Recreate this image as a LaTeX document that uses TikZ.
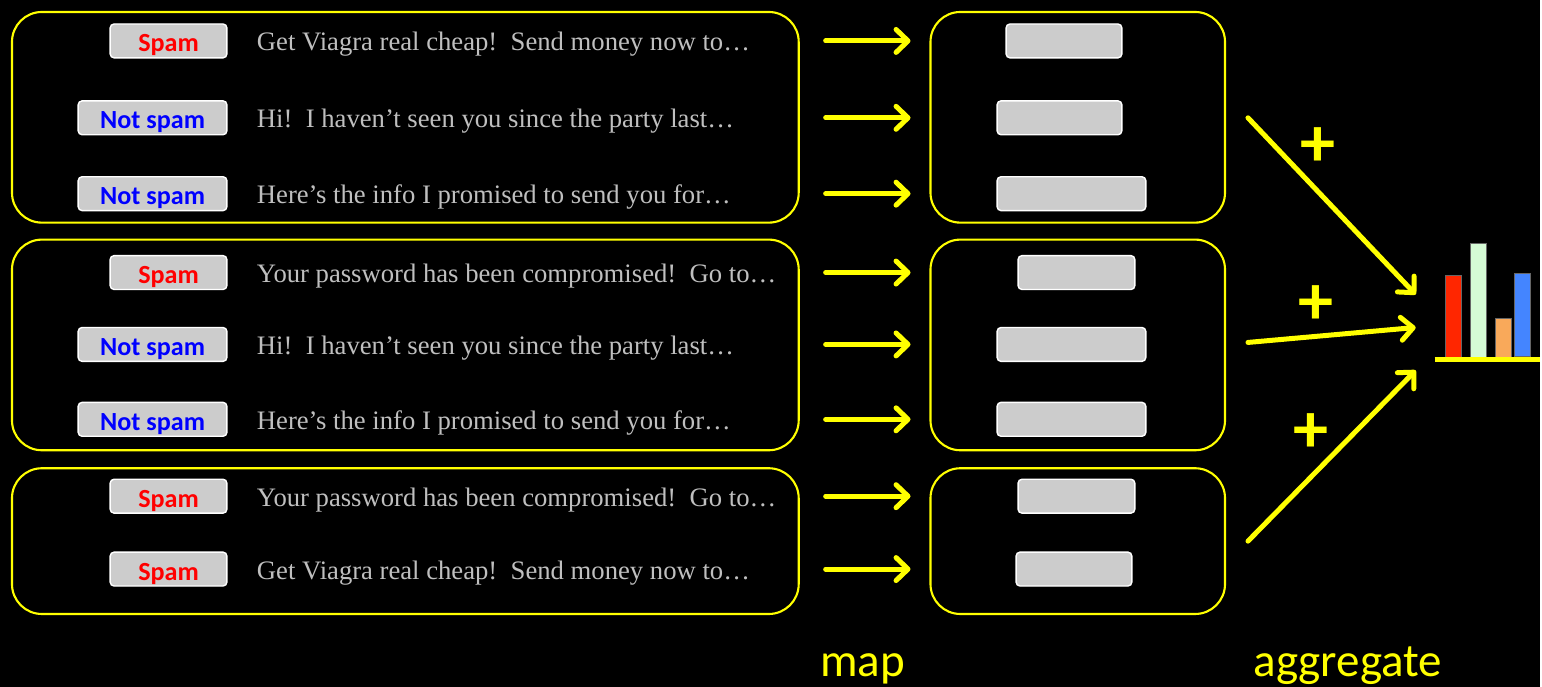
\documentclass[tikz,border=0pt]{standalone}
\usepackage{fontspec}
\setmainfont{Liberation Serif}
\newfontfamily\calfont{Carlito}
\usepackage{xcolor}
\usetikzlibrary{arrows.meta}

\definecolor{hiyellow}{HTML}{FFFF00}
\definecolor{tagfill}{HTML}{CCCCCC}
\definecolor{msggray}{HTML}{BFBFBF}
\definecolor{spamred}{HTML}{FF0000}
\definecolor{hamblue}{HTML}{0000FF}
\definecolor{barred}{HTML}{FF2600}
\definecolor{barmint}{HTML}{D5FBD5}
\definecolor{barorange}{HTML}{F9A95A}
\definecolor{barblue}{HTML}{4485FF}

\begin{document}
\begin{tikzpicture}[
  x=0.02cm,y=-0.02cm,
  grp/.style={draw=hiyellow,line width=1.2pt,rounded corners=0.6cm},
  tag/.style={draw=white,fill=tagfill,line width=0.8pt,rounded corners=0.08cm,
    minimum height=0.68cm,minimum width=2.34cm,inner xsep=0.44cm,inner ysep=0pt,
    text height=0.44cm,text depth=0cm,
    font=\calfont\bfseries\fontsize{14.9}{16}\selectfont,anchor=east},
  msg/.style={text=msggray,anchor=base west,inner sep=0pt,font=\fontsize{15.2}{18}\selectfont},
  res/.style={draw=white,fill=tagfill,line width=0.8pt,rounded corners=0.08cm,
    minimum height=0.68cm,inner sep=0pt,anchor=west},
  flow/.style={draw=hiyellow,line width=0.1cm,line cap=round,
    -{Straight Barb[round,length=0.24cm,width=0.46cm]}},
  plus/.style={text=hiyellow,font=\calfont\bfseries\fontsize{40}{40}\selectfont,inner sep=0pt},
  step label/.style={text=hiyellow,anchor=base,inner sep=0pt,font=\calfont\fontsize{26.8}{30}\selectfont},
  bar/.style={draw=black!60,line width=0.4pt},
]
% background and page size
\fill[black] (0,0) rectangle (1542,688);

% groups of messages and their map outputs
\draw[grp] (12,12) rectangle (800,223);
\draw[grp] (12,240) rectangle (800,451);
\draw[grp] (12,469) rectangle (800,615);
\draw[grp] (932,12) rectangle (1227,223);
\draw[grp] (932,240) rectangle (1227,451);
\draw[grp] (932,469) rectangle (1227,615);

% one row per message
\foreach \r/\y/\lab/\col/\txt/\rx/\rw in {
  1/41/Spam/spamred/{Get Viagra real cheap!\ \ Send money now to…}/1007/116,
  2/118/Not spam/hamblue/{Hi!\ \ I haven’t seen you since the party last…}/998/125,
  3/194/Not spam/hamblue/{Here’s the info I promised to send you for…}/998/149,
  4/273/Spam/spamred/{Your password has been compromised!\ \ Go to…}/1019/117,
  5/345/Not spam/hamblue/{Hi!\ \ I haven’t seen you since the party last…}/998/149,
  6/420/Not spam/hamblue/{Here’s the info I promised to send you for…}/998/149,
  7/497/Spam/spamred/{Your password has been compromised!\ \ Go to…}/1019/117,
  8/570/Spam/spamred/{Get Viagra real cheap!\ \ Send money now to…}/1017/116}
{
  \node[tag,text=\col] (tag\r) at (228,\y) {\lab};
  \node[msg] (msg\r) at (257,\y+10) {\txt};
  \node[res,minimum width=\rw*0.02cm] (res\r) at (\rx,\y) {};
  \coordinate (ms\r) at (827,\y);
  \coordinate (me\r) at (912,\y);
  \draw[flow] (ms\r) -- (me\r);
}

% aggregation
\coordinate (as1) at (1250,118);
\coordinate (ae1) at (1418,295);
\coordinate (as2) at (1250,343);
\coordinate (ae2) at (1418,328);
\coordinate (as3) at (1250,542);
\coordinate (ae3) at (1418,371);
\foreach \i in {1,2,3}
  \draw[flow] (as\i) -- (ae\i);
\node[plus] (plus1) at (1320,147) {+};
\node[plus] (plus2) at (1318,306) {+};
\node[plus] (plus3) at (1313,434) {+};

% histogram
\draw[bar,fill=barred] (1448,276) rectangle (1464,358);
\draw[bar,fill=barmint] (1473,244) rectangle (1489,358);
\draw[bar,fill=barorange] (1498,319) rectangle (1514,358);
\draw[bar,fill=barblue] (1517,274) rectangle (1533,357);
\draw[hiyellow,line width=0.1cm] (1437,360) -- (1542,360);

% step names
\node[step label] (maplbl) at (864,678) {map};
\node[step label] (agglbl) at (1350,678) {aggregate};
\end{tikzpicture}
\end{document}
